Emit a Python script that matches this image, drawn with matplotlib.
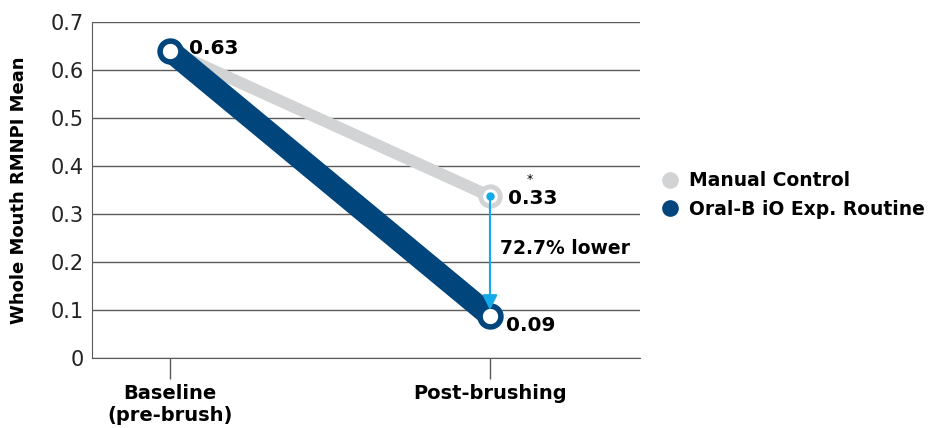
import matplotlib.pyplot as plt
from matplotlib.lines import Line2D

plt.rcParams['font.family'] = ['DejaVu Sans']

# data
timepoints = ["Baseline\n(pre-brush)", "Post-brushing"]
manual_vals = [0.64, 0.337]
oralb_vals = [0.64, 0.088]
manual_labels = ["", "0.33"]
oralb_labels = ["0.63", "0.09"]
series_names = ["Manual Control", "Oral-B iO Exp. Routine"]
diff_label = "72.7% lower"

BLUE = "#00457c"
GRAY = "#d1d3d4"
ARROW = "#14a9e8"
GRID = "#5a5a5a"

fig = plt.figure(figsize=(9.41, 4.28), dpi=100)
ax = fig.add_axes([92 / 941, 70 / 428, 548 / 941, 336 / 428])

x = list(range(len(timepoints)))

ax.plot(x, manual_vals, color=GRAY, lw=8.5, solid_capstyle="round", zorder=3)
ax.plot(x, manual_vals, "o", ms=14, mfc="white", mec=GRAY, mew=3.5, zorder=4)
ax.plot(x, oralb_vals, color=BLUE, lw=16, solid_capstyle="round", zorder=5)
ax.plot(x, oralb_vals, "o", ms=15, mfc="white", mec=BLUE, mew=4, zorder=6)

# arrow showing the difference
ax.annotate("", xy=(x[1], oralb_vals[1] + 0.012), xytext=(x[1], manual_vals[1]),
            arrowprops=dict(arrowstyle="-|>,head_length=0.9,head_width=0.45",
                            color=ARROW, lw=1.5, shrinkA=0, shrinkB=0),
            zorder=7)
ax.plot([x[1]], [manual_vals[1]], "o", ms=5, color=ARROW, zorder=8)

ax.text(x[0] + 0.06, oralb_vals[0] + 0.005, oralb_labels[0], fontsize=14.5,
        fontweight="bold", va="center", ha="left")
ax.text(x[1] + 0.055, manual_vals[1] - 0.005, manual_labels[1], fontsize=14.5,
        fontweight="bold", va="center", ha="left")
ax.text(x[1] + 0.125, manual_vals[1] + 0.035, "*", fontsize=9, va="center", ha="center")
ax.text(x[1] + 0.05, oralb_vals[1] - 0.02, oralb_labels[1], fontsize=14.5,
        fontweight="bold", va="center", ha="left")
ax.text(x[1] + 0.03, 0.228, diff_label, fontsize=13.5, fontweight="bold",
        va="center", ha="left")

ax.set_xlim(-0.244, 1.469)
ax.set_ylim(0, 0.7)
ax.set_yticks([0, 0.1, 0.2, 0.3, 0.4, 0.5, 0.6, 0.7])
ax.set_yticklabels(["0", "0.1", "0.2", "0.3", "0.4", "0.5", "0.6", "0.7"])
ax.set_xticks(x)
ax.set_xticklabels(timepoints, fontsize=14, fontweight="bold")
ax.tick_params(axis="y", length=0, pad=6, labelsize=15, labelcolor="#222222")
ax.tick_params(axis="x", length=15, width=1, color=GRID, pad=4)
ax.grid(axis="y", color=GRID, lw=1)
ax.set_axisbelow(True)
for side in ["top", "right"]:
    ax.spines[side].set_visible(False)
for side in ["left", "bottom"]:
    ax.spines[side].set_color(GRID)
ax.set_ylabel("Whole Mouth RMNPI Mean", fontsize=13, fontweight="bold", labelpad=16)

handles = [
    Line2D([], [], ls="", marker="o", ms=11, color=GRAY),
    Line2D([], [], ls="", marker="o", ms=11, color=BLUE),
]
ax.legend(handles, series_names, loc="center left", bbox_to_anchor=(0.99, 0.485),
          frameon=False, handletextpad=0.0, labelspacing=0.5,
          prop={"size": 13.5, "weight": "bold"})

fig.savefig("out.png", dpi=100)
